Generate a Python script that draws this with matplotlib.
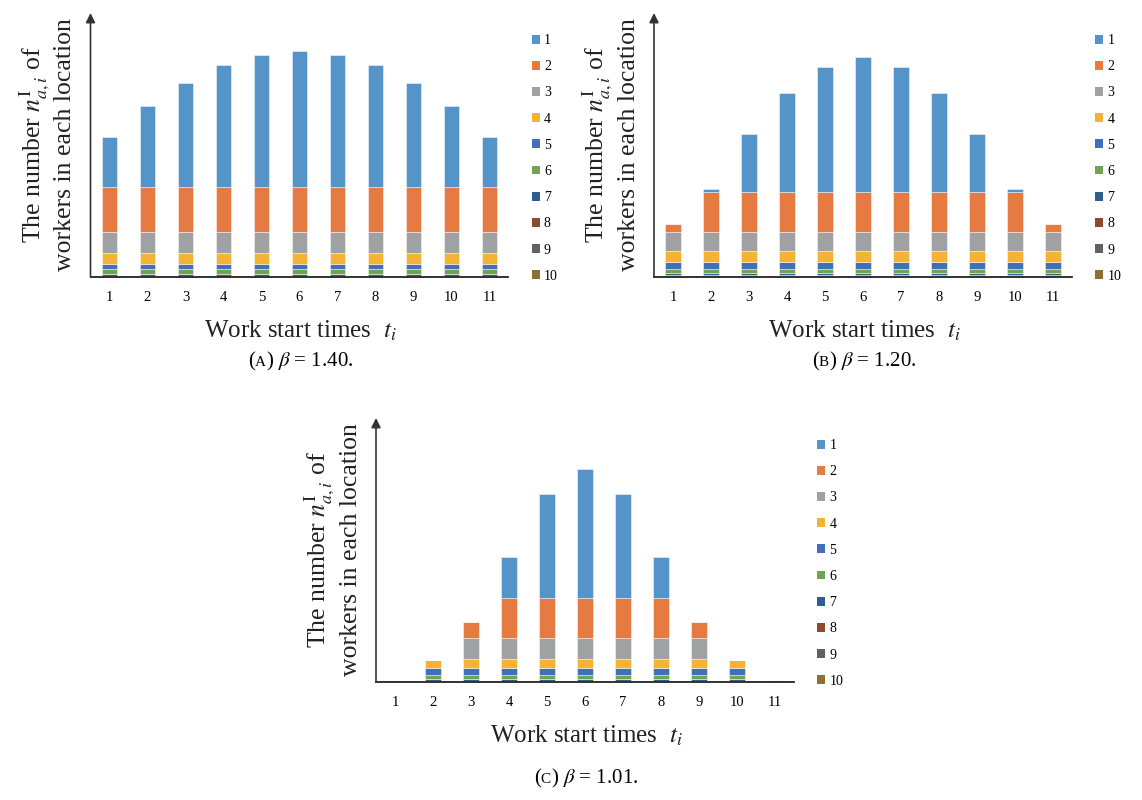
import matplotlib.pyplot as plt
import numpy as np
from matplotlib.patches import Patch
from matplotlib.offsetbox import TextArea, HPacker, AnnotationBbox

plt.rcParams['font.family'] = ['Liberation Serif', 'DejaVu Serif']
plt.rcParams['mathtext.fontset'] = 'stix'

# work start times t_i and locations 1..10
times = [1, 2, 3, 4, 5, 6, 7, 8, 9, 10, 11]
locations = ['1', '2', '3', '4', '5', '6', '7', '8', '9', '10']

# workers per location (rows, location 1 first) for each start time (columns)
beta_140 = [
    [50, 80.7, 104.4, 121.7, 132, 135.7, 132, 121.7, 104.4, 80.7, 50],
    [45, 45, 45, 45, 45, 45, 45, 45, 45, 45, 45],
    [20.6, 20.6, 20.6, 20.6, 20.6, 20.6, 20.6, 20.6, 20.6, 20.6, 20.6],
    [11, 11, 11, 11, 11, 11, 11, 11, 11, 11, 11],
    [5.6, 5.6, 5.6, 5.6, 5.6, 5.6, 5.6, 5.6, 5.6, 5.6, 5.6],
    [4.3, 4.3, 4.3, 4.3, 4.3, 4.3, 4.3, 4.3, 4.3, 4.3, 4.3],
    [2.0, 2.0, 2.0, 2.0, 2.0, 2.0, 2.0, 2.0, 2.0, 2.0, 2.0],
    [0.8, 0.8, 0.8, 0.8, 0.8, 0.8, 0.8, 0.8, 0.8, 0.8, 0.8],
    [0.5, 0.5, 0.5, 0.5, 0.5, 0.5, 0.5, 0.5, 0.5, 0.5, 0.5],
    [0.2, 0.2, 0.2, 0.2, 0.2, 0.2, 0.2, 0.2, 0.2, 0.2, 0.2],
]
beta_120 = [
    [0, 3.7, 58.3, 99.7, 125.3, 135, 125.3, 99.7, 58.3, 3.7, 0],
    [8.4, 39.7, 39.7, 39.7, 39.7, 39.7, 39.7, 39.7, 39.7, 39.7, 8.4],
    [19.3, 19.3, 19.3, 19.3, 19.3, 19.3, 19.3, 19.3, 19.3, 19.3, 19.3],
    [10.7, 10.7, 10.7, 10.7, 10.7, 10.7, 10.7, 10.7, 10.7, 10.7, 10.7],
    [6.6, 6.6, 6.6, 6.6, 6.6, 6.6, 6.6, 6.6, 6.6, 6.6, 6.6],
    [4.4, 4.4, 4.4, 4.4, 4.4, 4.4, 4.4, 4.4, 4.4, 4.4, 4.4],
    [2.0, 2.0, 2.0, 2.0, 2.0, 2.0, 2.0, 2.0, 2.0, 2.0, 2.0],
    [1.2, 1.2, 1.2, 1.2, 1.2, 1.2, 1.2, 1.2, 1.2, 1.2, 1.2],
    [0.5, 0.5, 0.5, 0.5, 0.5, 0.5, 0.5, 0.5, 0.5, 0.5, 0.5],
    [0.3, 0.3, 0.3, 0.3, 0.3, 0.3, 0.3, 0.3, 0.3, 0.3, 0.3],
]
beta_101 = [
    [0, 0, 0, 40.3, 104, 129, 104, 40.3, 0, 0, 0],
    [0, 0, 15.7, 40.4, 40.4, 40.4, 40.4, 40.4, 15.7, 0, 0],
    [0, 0, 20.6, 20.6, 20.6, 20.6, 20.6, 20.6, 20.6, 0, 0],
    [0, 8, 9.7, 9.7, 9.7, 9.7, 9.7, 9.7, 9.7, 8, 0],
    [0, 6.3, 6.3, 6.3, 6.3, 6.3, 6.3, 6.3, 6.3, 6.3, 0],
    [0, 4, 4, 4, 4, 4, 4, 4, 4, 4, 0],
    [0, 2, 2, 2, 2, 2, 2, 2, 2, 2, 0],
    [1.2, 0.8, 0.8, 0.8, 0.8, 0.8, 0.8, 0.8, 0.8, 0.8, 1.2],
    [0.8, 0.4, 0.4, 0.4, 0.4, 0.4, 0.4, 0.4, 0.4, 0.4, 0.8],
    [0.4, 0.2, 0.2, 0.2, 0.2, 0.2, 0.2, 0.2, 0.2, 0.2, 0.4],
]

colors = ['#5494c9', '#e57a43', '#a0a1a3', '#f5b335', '#4070ba',
          '#70a450', '#2f5f8e', '#8e4b2b', '#626262', '#8e7035']

W, H = 1142, 800
fig = plt.figure(figsize=(W / 100, H / 100), dpi=100)


def px_box(left, top, right, bottom):
    return [left / W, 1 - bottom / H, (right - left) / W, (bottom - top) / H]


def draw_panel(data, left, top, tag, beta, cap_off=348):
    ax = fig.add_axes(px_box(left, top, left + 418, top + 264))
    # location 10 sits at the bottom of each stack, location 1 on top
    base = np.zeros(len(times))
    for vals, c in reversed(list(zip(data, colors))):
        ax.bar(times, vals, width=0.4, bottom=base, color=c,
               edgecolor=(1, 1, 1, 0.55), linewidth=0.6)
        base += np.array(vals)
    ax.set_xlim(0.5, 11.5)
    ax.set_ylim(0, 264)
    ax.set_yticks([])
    ax.set_xticks(times)
    ax.tick_params(axis='x', length=0, pad=10, labelsize=10.5)
    for s in ['top', 'right', 'left']:
        ax.spines[s].set_visible(False)
    ax.spines['bottom'].set_linewidth(1.3)
    ax.spines['bottom'].set_color('#222222')
    ax.annotate('', xy=(0, 1), xytext=(0, 0), xycoords='axes fraction',
                arrowprops=dict(arrowstyle='-|>', color='#333333', lw=1.2,
                                mutation_scale=14, shrinkA=0, shrinkB=0))

    # y label, two lines
    fig.text((left - 44) / W, 1 - (top + 132) / H,
             'The number $n^{\\mathrm{I}}_{a,i}$ of\nworkers in each location',
             rotation=90, ha='center', va='center', multialignment='center',
             fontsize=18.5, linespacing=1.15, color='#222222')

    # x label
    fig.text((left + 210) / W, 1 - (top + 318) / H, 'Work start times  $t_i$',
             ha='center', va='center', fontsize=18, color='#222222')

    # caption with small-caps tag
    parts = [TextArea('(', textprops=dict(fontsize=15)),
             TextArea(tag, textprops=dict(fontsize=11)),
             TextArea(') $\\beta$ = ' + beta + '.', textprops=dict(fontsize=15))]
    pack = HPacker(children=parts, align='baseline', pad=0, sep=0)
    ab = AnnotationBbox(pack, ((left + 210) / W, 1 - (top + cap_off) / H),
                        xycoords='figure fraction', frameon=False,
                        box_alignment=(0.5, 0.5))
    fig.add_artist(ab)

    handles = [Patch(facecolor=c) for c in colors]
    ax.legend(handles, locations, loc='upper left',
              bbox_to_anchor=((left + 441) / W, 1 - (top + 21) / H),
              bbox_transform=fig.transFigure, frameon=False, fontsize=10,
              handlelength=0.6, handleheight=0.6, handletextpad=0.3,
              labelspacing=0.95, borderpad=0, borderaxespad=0)
    return ax


draw_panel(beta_140, 90.5, 13, 'A', '1.40')
draw_panel(beta_120, 654, 13, 'B', '1.20')
draw_panel(beta_101, 376, 418, 'C', '1.01', cap_off=360)

fig.savefig('out.png', dpi=100)
